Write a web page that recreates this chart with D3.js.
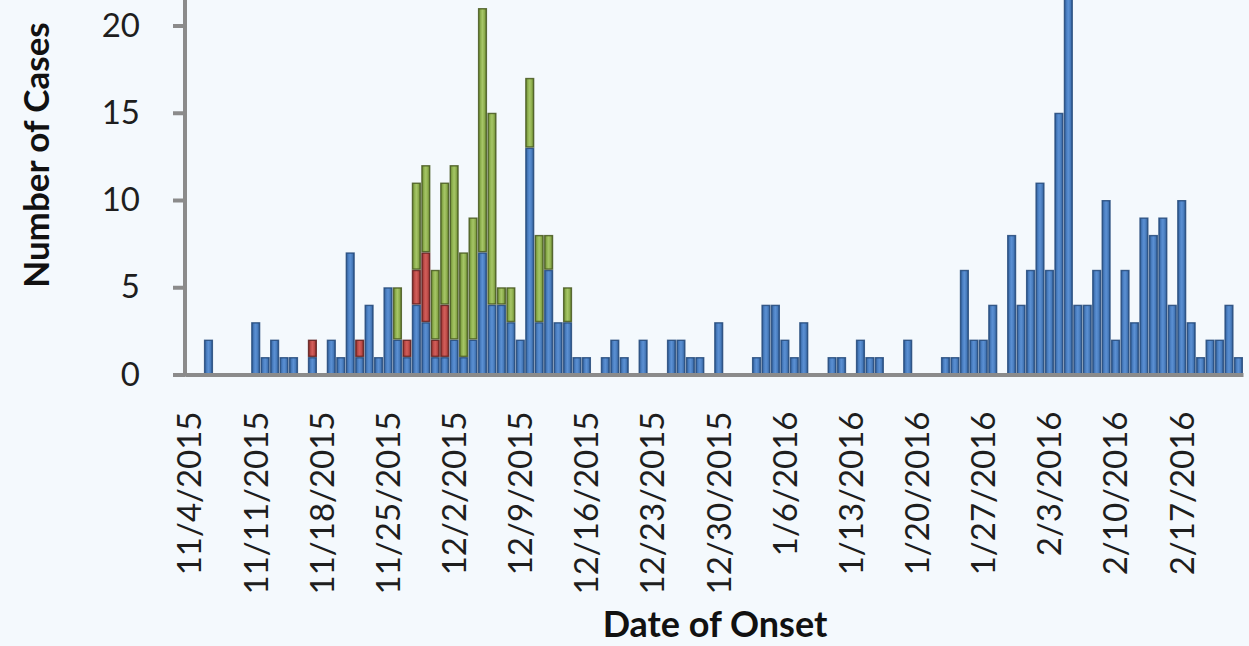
<!DOCTYPE html>
<html>
<head>
<meta charset="utf-8">
<script src="https://cdn.jsdelivr.net/npm/d3@7"></script>
<style>
body { margin: 0; background: #F4F9FD; }
svg { display: block; }
</style>
</head>
<body>
<svg width="1249" height="646"></svg>
<script>
// one category per day, starting 11/4/2015
var firstDay = "11/4/2015";
var dayCount = 112;

// cases per day, one row per week (blue = bottom, red = middle, green = top of stack)
var blueCases = [
  0,0,2,0,0,0,0,
  3,1,2,1,1,0,1,
  0,2,1,7,1,4,1,
  5,2,1,4,3,1,1,
  2,1,2,7,4,4,3,
  2,13,3,6,3,3,1,
  1,0,1,2,1,0,2,
  0,0,2,2,1,1,0,
  3,0,0,0,1,4,4,
  2,1,3,0,0,1,1,
  0,2,1,1,0,0,2,
  0,0,0,1,1,6,2,
  2,4,0,8,4,6,11,
  6,15,22,4,4,6,10,
  2,6,3,9,8,9,4,
  10,3,1,2,2,4,1
];
var redCases = [
  0,0,0,0,0,0,0,
  0,0,0,0,0,0,1,
  0,0,0,0,1,0,0,
  0,0,1,2,4,1,3,
  0,0,0,0,0,0,0,
  0,0,0,0,0,0,0,
  0,0,0,0,0,0,0,
  0,0,0,0,0,0,0,
  0,0,0,0,0,0,0,
  0,0,0,0,0,0,0,
  0,0,0,0,0,0,0,
  0,0,0,0,0,0,0,
  0,0,0,0,0,0,0,
  0,0,0,0,0,0,0,
  0,0,0,0,0,0,0,
  0,0,0,0,0,0,0
];
var greenCases = [
  0,0,0,0,0,0,0,
  0,0,0,0,0,0,0,
  0,0,0,0,0,0,0,
  0,3,0,5,5,4,7,
  10,6,7,14,11,1,2,
  0,4,5,2,0,2,0,
  0,0,0,0,0,0,0,
  0,0,0,0,0,0,0,
  0,0,0,0,0,0,0,
  0,0,0,0,0,0,0,
  0,0,0,0,0,0,0,
  0,0,0,0,0,0,0,
  0,0,0,0,0,0,0,
  0,0,0,0,0,0,0,
  0,0,0,0,0,0,0,
  0,0,0,0,0,0,0
];

var yTicks = [0, 5, 10, 15, 20];
var xTickLabels = ["11/4/2015","11/11/2015","11/18/2015","11/25/2015","12/2/2015","12/9/2015",
  "12/16/2015","12/23/2015","12/30/2015","1/6/2016","1/13/2016","1/20/2016","1/27/2016",
  "2/3/2016","2/10/2016","2/17/2016"];

var svg = d3.select("svg");
var parseDay = d3.timeParse("%m/%d/%Y");
var fmtDay = d3.timeFormat("%-m/%-d/%Y");

var days = d3.range(dayCount).map(function(i) {
  return fmtDay(d3.timeDay.offset(parseDay(firstDay), i));
});
var rows = days.map(function(d, i) {
  return { day: d, blue: blueCases[i], red: redCases[i], green: greenCases[i] };
});

var x = d3.scaleBand().domain(days).range([185, 1243]).paddingInner(0.03);
var y = d3.scaleLinear().domain([0, 20]).range([374.5, 25.5]);

// bevel-ish gradients like the office chart style
var palette = {
  blue:  { stops: ["#325f99", "#4d82c5", "#5b90d3", "#4a7ebf", "#305c95"], edge: "#23497a" },
  red:   { stops: ["#8d2f2c", "#c24f4c", "#d25e5a", "#bd4b48", "#872d2a"], edge: "#5e1f1d" },
  green: { stops: ["#6c8934", "#93b653", "#a6c567", "#8fb04f", "#688432"], edge: "#46581f" }
};
var defs = svg.append("defs");
Object.keys(palette).forEach(function(k) {
  var g = defs.append("linearGradient").attr("id", "grad-" + k)
    .attr("x1", 0).attr("x2", 1).attr("y1", 0).attr("y2", 0);
  var offs = [0, 0.3, 0.5, 0.75, 1];
  palette[k].stops.forEach(function(c, i) {
    g.append("stop").attr("offset", offs[i]).attr("stop-color", c);
  });
});

var stack = d3.stack().keys(["blue", "red", "green"]);
var layers = stack(rows);

svg.append("g").attr("class", "bars")
  .selectAll("g")
  .data(layers)
  .enter().append("g")
  .attr("fill", function(d) { return "url(#grad-" + d.key + ")"; })
  .attr("stroke", function(d) { return palette[d.key].edge; })
  .attr("stroke-width", 1.4)
  .attr("stroke-opacity", 0.85)
  .selectAll("rect")
  .data(function(d) { return d.filter(function(p) { return p[1] > p[0]; }); })
  .enter().append("rect")
  .attr("x", function(p) { return x(p.data.day) + 0.7; })
  .attr("width", x.bandwidth() - 1.4)
  .attr("y", function(p) { return y(p[1]) + 0.7; })
  .attr("height", function(p) { return y(p[0]) - y(p[1]) - 1.4; });

// y axis
var yAxis = svg.append("g")
  .attr("transform", "translate(185,0)")
  .call(d3.axisLeft(y).tickValues(yTicks).tickSize(12).tickPadding(33).tickSizeOuter(0));
yAxis.select(".domain").attr("d", "M0," + y(23) + "V" + (y(0) + 2));
yAxis.selectAll("path, line").attr("stroke", "#8b8b8b").attr("stroke-width", 4);
yAxis.selectAll("text")
  .style("font-family", "Lato, 'Open Sans', sans-serif")
  .style("font-size", "33px")
  .attr("fill", "#1e1e1e");

// x axis
var xAxis = svg.append("g")
  .attr("transform", "translate(0," + y(0) + ")")
  .call(d3.axisBottom(x).tickValues(xTickLabels).tickSize(0).tickSizeOuter(0));
xAxis.select(".domain").attr("stroke", "#8b8b8b").attr("stroke-width", 4);
xAxis.selectAll("text")
  .attr("transform", "rotate(-90)")
  .attr("x", -37)
  .attr("y", 0)
  .attr("dy", "0.36em")
  .style("text-anchor", "end")
  .style("font-family", "Lato, 'Open Sans', sans-serif")
  .style("font-size", "33px")
  .attr("fill", "#1e1e1e");

// titles
svg.append("text")
  .attr("transform", "translate(49,155) rotate(-90)")
  .attr("text-anchor", "middle")
  .style("font-family", "Lato, 'Open Sans', sans-serif")
  .style("font-weight", "bold")
  .style("font-size", "35px")
  .attr("fill", "#111")
  .text("Number of Cases");

svg.append("text")
  .attr("x", 715)
  .attr("y", 637)
  .attr("text-anchor", "middle")
  .style("font-family", "Lato, 'Open Sans', sans-serif")
  .style("font-weight", "bold")
  .style("font-size", "36px")
  .attr("fill", "#111")
  .text("Date of Onset");
</script>
</body>
</html>
